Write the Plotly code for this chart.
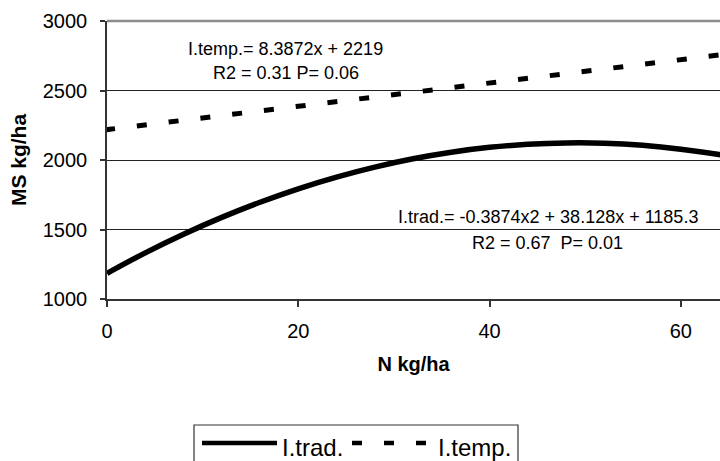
import plotly.graph_objects as go

# Nitrogen rate (kg/ha) and dry-matter yield (kg/ha) along the fitted curves
n_trad = [0, 4, 8, 12, 16, 20, 24, 28, 32, 36, 40, 44, 48, 52, 56, 60, 64, 68]
ms_trad = [1185, 1332, 1466, 1587, 1696, 1793, 1877, 1949, 2009,
           2056, 2091, 2113, 2123, 2121, 2106, 2078, 2039, 1987]

n_temp = [-0.2, 68]
ms_temp = [2217, 2789]

x_ticks = [0, 20, 40, 60]
y_ticks = [1000, 1500, 2000, 2500, 3000]

eq_temp = ["I.temp.= 8.3872x + 2219", "R2 = 0.31 P= 0.06"]
eq_trad = ["I.trad.= -0.3874x2 + 38.128x + 1185.3", "R2 = 0.67\u00a0 P= 0.01"]

FONT = "Liberation Sans, Arial, sans-serif"
W, H = 720, 461
ML, MR, MT, MB = 107, 0, 21, 162
PW, PH = W - ML - MR, H - MT - MB


def px_x(p):
    return (p - ML) / PW


def px_y(p):
    return (H - MB - p) / PH


fig = go.Figure()
fig.add_trace(go.Scatter(
    x=n_trad, y=ms_trad, mode="lines", name="I.trad.",
    line=dict(color="black", width=5.5, shape="spline"),
    showlegend=False,
))
fig.add_trace(go.Scatter(
    x=n_temp, y=ms_temp, mode="lines", name="I.temp.",
    line=dict(color="black", width=5, dash="10px,22px"),
    showlegend=False,
))

# Regression equations
fig.add_annotation(x=18.7, y=2797, text=eq_temp[0], showarrow=False,
                   font=dict(size=18, color="black", family=FONT))
fig.add_annotation(x=18.7, y=2628, text=eq_temp[1], showarrow=False,
                   font=dict(size=18, color="black", family=FONT))
fig.add_annotation(x=46.1, y=1588, text=eq_trad[0], showarrow=False,
                   font=dict(size=18, color="black", family=FONT))
fig.add_annotation(x=46.1, y=1400, text=eq_trad[1], showarrow=False,
                   font=dict(size=18, color="black", family=FONT))

# Top frame line
fig.add_shape(type="line", xref="paper", yref="paper", x0=0, x1=1, y0=1, y1=1,
              line=dict(color="#8c8c8c", width=2.5), layer="above")

# Legend box below the chart
fig.add_shape(type="rect", xref="paper", yref="paper",
              x0=px_x(194), x1=px_x(518), y0=px_y(480), y1=px_y(425),
              line=dict(color="#333333", width=1.2), fillcolor="white")
fig.add_shape(type="line", xref="paper", yref="paper",
              x0=px_x(202), x1=px_x(277), y0=px_y(443), y1=px_y(443),
              line=dict(color="black", width=4.5))
for start in (352, 384, 416):
    fig.add_shape(type="line", xref="paper", yref="paper",
                  x0=px_x(start), x1=px_x(start + 10), y0=px_y(443), y1=px_y(443),
                  line=dict(color="black", width=4.5))
fig.add_annotation(xref="paper", yref="paper", x=px_x(280), y=px_y(447),
                   xanchor="left", yanchor="middle", text="I.trad.", showarrow=False,
                   font=dict(size=24, color="black", family=FONT))
fig.add_annotation(xref="paper", yref="paper", x=px_x(436), y=px_y(447),
                   xanchor="left", yanchor="middle", text="I.temp.", showarrow=False,
                   font=dict(size=24, color="black", family=FONT))

fig.update_layout(
    width=W, height=H,
    margin=dict(l=ML, r=MR, t=MT, b=MB, pad=0),
    paper_bgcolor="white", plot_bgcolor="white",
    font=dict(family=FONT, size=20, color="black"),
    showlegend=False,
    xaxis=dict(
        range=[0, 64.1], tickvals=x_ticks, ticks="outside", ticklen=6,
        tickcolor="#333333", tickwidth=1.5,
        showline=True, linecolor="#333333", linewidth=1.5,
        showgrid=False, zeroline=False,
        tickfont=dict(size=20, color="black", family=FONT),
        title=dict(text="<b>N kg/ha</b>", font=dict(size=20, family=FONT), standoff=16),
        ticklabelstandoff=7,
    ),
    yaxis=dict(
        range=[1000, 3000], tickvals=y_ticks, ticks="outside", ticklen=5,
        tickcolor="#333333", tickwidth=1.5,
        showline=True, linecolor="#333333", linewidth=1.5,
        showgrid=True, gridcolor="#222222", gridwidth=1,
        zeroline=False,
        tickfont=dict(size=20, color="black", family=FONT),
        title=dict(text="<b>MS kg/ha</b>", font=dict(size=21, family=FONT), standoff=10),
        ticklabelstandoff=9,
    ),
)

fig.write_html("out.html")
